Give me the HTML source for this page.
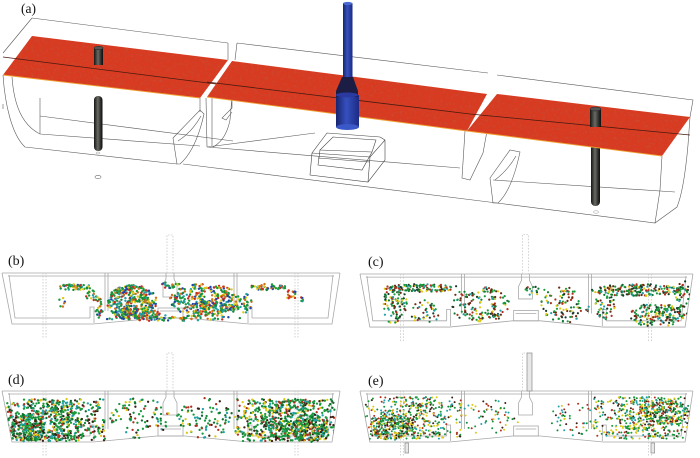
<!DOCTYPE html>
<html><head><meta charset="utf-8"><style>
html,body{margin:0;padding:0;background:#fff;}
svg{display:block;}
text{font-family:"Liberation Serif",serif;fill:#111;}
</style></head><body>
<svg id="s" width="700" height="458" viewBox="0 0 700 458" xmlns="http://www.w3.org/2000/svg">
<defs>
<linearGradient id="rod" x1="0" x2="1" y1="0" y2="0">
<stop offset="0" stop-color="#151515"/><stop offset="0.45" stop-color="#6a6a62"/><stop offset="0.8" stop-color="#2a2a2a"/><stop offset="1" stop-color="#0e0e0e"/>
</linearGradient>
<linearGradient id="blue" x1="0" x2="1" y1="0" y2="0">
<stop offset="0" stop-color="#17236e"/><stop offset="0.45" stop-color="#3550bd"/><stop offset="1" stop-color="#1d2a86"/>
</linearGradient>
<filter id="mott" x="0" y="0" width="1" height="1">
<feTurbulence type="fractalNoise" baseFrequency="0.35" numOctaves="2" seed="3" result="n"/>
<feColorMatrix in="n" type="matrix" values="0 0 0 0 0.55  0 0 0 0 0.08  0 0 0 0 0.04  0 0 0 1.6 -0.75" result="m"/>
<feComposite in="m" in2="SourceGraphic" operator="in" result="c"/>
<feMerge><feMergeNode in="SourceGraphic"/><feMergeNode in="c"/></feMerge>
</filter>
<clipPath id="cb"><polygon points="2,273 340,273 332,325 12,325"/></clipPath>
<clipPath id="cc"><polygon points="360,274 693,274 685,328 370,328"/></clipPath>
<clipPath id="cd"><polygon points="2,391 340,391 332,443 12,443"/></clipPath>
<clipPath id="ce"><polygon points="360,391 693,391 685,443 370,443"/></clipPath>
<g id="tank" fill="none" stroke="#a8a8a8" stroke-width="0.8">
<path d="M0,0 H338 M0,0 L10,51 H91 L155,45 H183 L247,51 H330 L338,0 M7,2 L13,45 H88 M250,45 H326 L331,2 M6,3 H332" />
<path d="M88,45 V34 H92 V50 M246,50 V34 H250 V45"/>
<path d="M103,0 V38 M106,0 V38 M232,0 V38 M235,0 V38"/>
<rect x="156" y="35" width="25" height="10"/>
<path d="M158,38 H179"/>
<path d="M164,0 L164,6 L161,12 L161,24 H175 V12 L172,6 L172,0"/>
<path d="M41,0 V66 M44,0 V66 M293,0 V66 M296,0 V66 M165,0 V-38 H171 V0" stroke="#c8c8c8" stroke-dasharray="1.5,1.5"/>
</g>
</defs>
<rect width="700" height="458" fill="#fff"/>

<!-- Panel (a) -->
<g fill="none" stroke="#5a5a5a" stroke-width="0.6">
<path d="M32,18 L228,43 M32,18 L3,53 M228,43 L228,60"/>
<path d="M3,75 C5,105 12,135 25,147 L177,164"/>
<path d="M12,77 C14,105 22,125 40,134 L200,146"/>
<path d="M40,98 L40,134 M40,116 L233,141"/>
<path d="M200,98 L200,112"/>
<path d="M173,138 L200,110 L204,114 Q196,150 180,164 L177,164 Z M178,141 Q192,132 201,116"/>
<path d="M237,43 L488,73 M237,43 L235,60"/>
<path d="M206,98 L207,147 M212,98 L212,146"/>
<path d="M232,97 L232,108 L222,118 L226,120 L232,112 M232,97 L230,120 Q226,140 213,147"/>
<path d="M207,147 L460,168 M183,164 L497,203 M207,147 L315,133"/>
<path d="M465,131 L462,178 L470,180 L483,153 L487,131"/>
<path d="M497,75 L693,100 L690,117"/>
<path d="M690,117 L688,145 Q684,190 677,207 L655,223"/>
<path d="M662,156 L660,190 L655,223 L497,203"/>
<path d="M493,180 L675,192"/>
<path d="M490,178 L510,150 L520,152 Q512,190 498,203 L493,203 Z M495,180 Q508,170 516,156"/>
<path d="M3,104 L3,109"/>
</g>
<g fill="none" stroke="#444" stroke-width="0.6">
<path d="M327,133 L380,137 L385,140 L385,160 L368,182 L310,175 L312,153 Z M312,153 L370,157 L368,182 M370,157 L385,140"/>
<path d="M333,137 L376,140 L372,152 L320,150 Z M320,150 L318,165 L362,170 L372,152 M318,158 L370,162"/>
</g>
<rect x="94" y="96" width="8.5" height="55" rx="4" fill="url(#rod)"/>
<rect x="591" y="144" width="9" height="62" rx="4.3" fill="url(#rod)"/>
<ellipse cx="98" cy="177" rx="3" ry="1.6" fill="none" stroke="#666" stroke-width="0.6"/>
<ellipse cx="98" cy="153" rx="2" ry="1" fill="none" stroke="#999" stroke-width="0.5"/>
<ellipse cx="596" cy="212" rx="2.5" ry="1.2" fill="none" stroke="#999" stroke-width="0.5"/>
<g filter="url(#mott)">
<polygon points="32,36 228,60 200,98 3,75" fill="#d83a20"/>
<polygon points="232,61 487,94 467,131 207,97" fill="#d83a20"/>
<polygon points="497,94 690,117 662,156 467,131" fill="#d83a20"/>
</g>
<g stroke="#f0a030" stroke-width="0.9" fill="none">
<path d="M3,75 L200,98 M207,97 L467,131 L662,156"/>
</g>
<g stroke="#4a1a10" stroke-width="0.8" fill="none">
<path d="M3,57 L216,84 M207,82 L470,114 L690,135"/>
</g>
<rect x="94" y="48" width="9" height="17" fill="url(#rod)"/>
<ellipse cx="98.5" cy="48" rx="4.5" ry="1.8" fill="#555" stroke="#222" stroke-width="0.5"/>
<rect x="590" y="109" width="11" height="18" fill="url(#rod)"/>
<ellipse cx="595.5" cy="109" rx="5.5" ry="2" fill="#555" stroke="#222" stroke-width="0.5"/>
<rect x="343" y="3" width="9.5" height="76" fill="url(#blue)"/>
<ellipse cx="347.7" cy="3.5" rx="4.7" ry="1.6" fill="#4a6ad0"/>
<rect x="336" y="95" width="23" height="32" fill="url(#blue)"/>
<ellipse cx="347.5" cy="127" rx="11.5" ry="3" fill="#3a58c8"/>
<path d="M342,77 L353,77 L358,91 L358,97 L336,97 L336,91 Z" fill="#1b1d45"/>
<ellipse cx="347" cy="95" rx="11" ry="2.5" fill="#2a3aa0"/>
<text x="21" y="13" font-size="13.5">(a)</text>

<use href="#tank" transform="translate(2,273)"/>
<use href="#tank" transform="translate(360,274) scale(0.985,1.04)"/>
<use href="#tank" transform="translate(2,391)"/>
<use href="#tank" transform="translate(360,391) scale(0.985,1)"/>
<g fill="#e8e8e8" stroke="#8a8a8a" stroke-width="0.7">
<rect x="527" y="353" width="5" height="38"/>
<rect x="405" y="443" width="3.5" height="10"/>
<rect x="651" y="443" width="3.5" height="10"/>
</g>

<g id="parts"></g>

<text x="8" y="265" font-size="14">(b)</text>
<text x="368" y="266" font-size="14">(c)</text>
<text x="8" y="384" font-size="14">(d)</text>
<text x="368" y="385" font-size="14">(e)</text>
</svg>
<script>
(function(){
var seed=12345;
function r(){seed=(seed*1664525+1013904223)>>>0;return seed/4294967296;}
var out='';
function panel(clip,rad,cols,blobs){
  out+='<g clip-path="url(#'+clip+')">';
  for(var b=0;b<blobs.length;b++){
    var B=blobs[b];
    for(var i=0;i<B[4];i++){
      var x,y;
      if(B[5]){
        var u=(r()+r()+r())/1.5-1, v=r()*2-1;
        u = (r()<0.5)? (r()*2-1) : u;
        x=B[0]+u*B[2]; y=B[1]+v*B[3];
      } else {
        var a=r()*6.2832,d=Math.sqrt(r());
        x=B[0]+Math.cos(a)*d*B[2]; y=B[1]+Math.sin(a)*d*B[3];
      }
      var c=cols[Math.floor(r()*cols.length)];
      out+='<circle cx="'+x.toFixed(1)+'" cy="'+y.toFixed(1)+'" r="'+rad+'" fill="'+c+'"/>';
    }
  }
  out+='</g>';
}
panel('cb',1.2,['#1a9a3c','#1a9a3c','#2244aa','#cc2a1e','#e0c818','#22a0a8','#d07018','#138a3a'],
 [[132,302,25,17,360],[135,314,25,6,80],[205,300,36,16,300],[215,308,25,8,80],[172,318,70,3,80],[75,287,17,3,50],[92,296,6,6,20],[99,308,4,10,25],[267,287,20,3,50],[246,304,6,10,25],[291,295,6,6,15],[302,300,2,3,6],[170,285,10,3,20],[62,300,3,8,6]]);
panel('cc',1.1,['#1a9a3c','#0f7a34','#22a0a8','#e0c818','#6a2a14','#1a3a2a','#1a9a3c','#b0301e'],
 [[422,288,38,4,120],[395,305,12,20,90],[425,312,15,12,40],[480,305,30,18,150],[565,305,25,18,100],[535,290,10,6,15],[640,290,48,6,200],[657,315,28,12,160],[605,305,10,15,50],[683,300,7,20,40]]);
panel('cd',1.15,['#1a9a3c','#1a9a3c','#138a3a','#0f6a30','#3a2014','#e0c818','#22a0a8','#b0301e'],
 [[55,420,50,21,650,1],[28,428,18,14,200],[140,418,30,20,90],[205,418,28,20,90],[285,420,50,21,650,1],[310,428,18,14,200]]);
panel('ce',1.0,['#1a9a3c','#e0c818','#22a0a8','#3a2014','#1a9a3c','#b0301e','#138a3a','#e0c818'],
 [[412,418,50,21,450,1],[392,427,22,13,200],[490,418,30,18,60],[575,418,25,18,50],[642,418,48,21,450,1],[665,412,24,13,200]]);
document.getElementById('parts').innerHTML=out;
})();
</script>
</body></html>
